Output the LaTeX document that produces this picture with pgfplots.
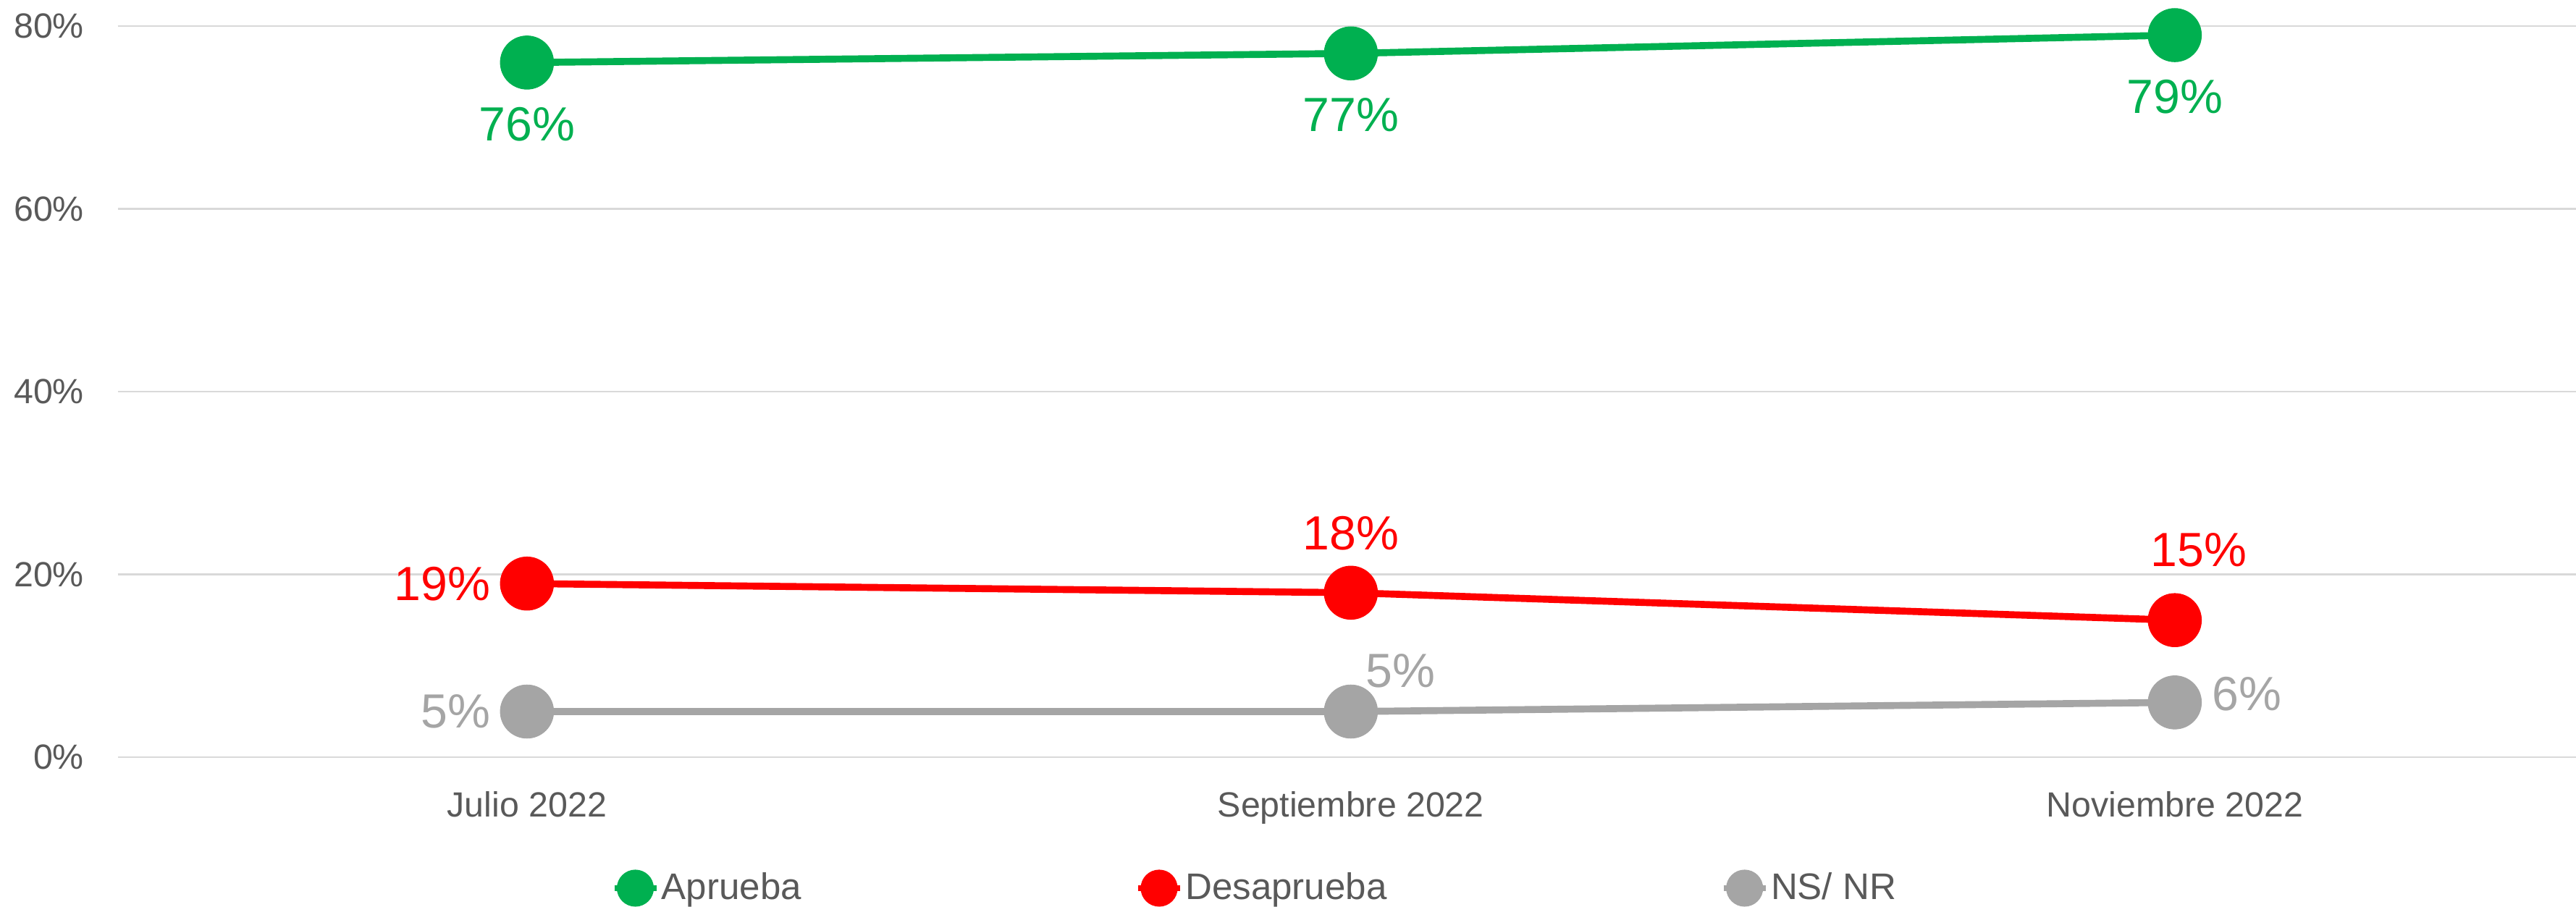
\documentclass[border=0pt]{standalone}
\usepackage{fontspec}
\setmainfont{Liberation Sans}
\usepackage{pgfplots}
\usepackage{pgfplotstable}
\pgfplotsset{compat=1.18}

\definecolor{apgreen}{HTML}{00B050}
\definecolor{dsred}{HTML}{FF0000}
\definecolor{nsgray}{HTML}{A5A5A5}
\definecolor{txt}{HTML}{595959}
\definecolor{grd}{HTML}{D9D9D9}

% x y, then label centre offset from the point (pt)
\pgfplotstableread{
x y dx dy
0 76 0 -18.5
1 77 0 -18.5
2 79 0 -18.5
}\aprueba
\pgfplotstableread{
x y dx dy
0 19 -25.4 0
1 18 0 17.8
2 15 7.2 21
}\desaprueba
\pgfplotstableread{
x y dx dy
0 5 -21.4 0
1 5 15 12.2
2 6 21.7 2.5
}\nsnr

\pgfplotsset{lbl/.style={
  nodes near coords={\pgfmathprintnumber{\pgfplotspointmeta}\%},
  visualization depends on={\thisrow{dx}\as\mydx},
  visualization depends on={\thisrow{dy}\as\mydy},
  nodes near coords style={anchor=center, xshift=\mydx pt, yshift=\mydy pt,
    inner sep=0pt, font=\fontsize{14.4}{16}\selectfont, text=#1},
  color=#1, line width=2.1pt, mark=*, mark size=8pt,
  mark options={line width=0.2pt},
}}

\begin{document}
\begin{tikzpicture}
\begin{axis}[
  scale only axis, width=738pt, height=219.6pt,
  xmin=-0.4965, xmax=2.487, ymin=0, ymax=80,
  xtick={0,1,2}, xticklabels={Julio 2022,Septiembre 2022,Noviembre 2022},
  ytick={0,20,40,60,80}, yticklabel={\pgfmathprintnumber{\tick}\%},
  /pgf/number format/assume math mode=true,
  ymajorgrids, grid style={grd, line width=0.5pt},
  axis line style={draw=none}, major tick style={draw=none},
  tick label style={text=txt, font=\fontsize{10.5}{12}\selectfont, inner sep=0pt},
  yticklabel style={anchor=east, xshift=-10pt},
  xticklabel style={anchor=north, yshift=-10pt},
  clip=false,
  legend columns=3,
  legend style={at={(0.2006,-0.179)}, anchor=west, draw=none, fill=none,
    inner sep=0pt, font=\fontsize{11.1}{13}\selectfont, text=txt,
    nodes={inner sep=0.8pt},
    /tikz/every even column/.append style={column sep=99.5pt}},
  legend image code/.code={
    \draw[line width=1.6pt] (0pt,0pt) -- (12.6pt,0pt);
    \fill (6.3pt,0pt) circle (4.5pt);},
]
\addplot[lbl=apgreen] table[x=x,y=y] {\aprueba};
\addplot[lbl=dsred] table[x=x,y=y] {\desaprueba};
\addplot[lbl=nsgray] table[x=x,y=y] {\nsnr};
\legend{Aprueba,Desaprueba,NS/ NR}
\end{axis}
\pgfresetboundingbox
\path[use as bounding box] (-35.4pt,-44.8pt) rectangle (738pt,227.4pt);
\end{tikzpicture}
\end{document}
